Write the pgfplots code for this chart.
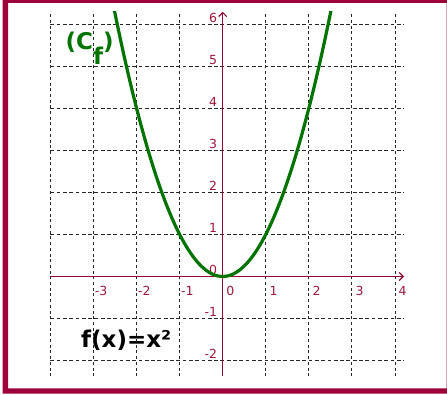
\documentclass[border=0pt]{standalone}
\usepackage{pgfplots}
\pgfplotsset{compat=1.18}
\usepackage{pgfplotstable}
\usetikzlibrary{arrows.meta}
\usepackage{graphicx}
\usepackage{fontspec}
\setmainfont{DejaVu Sans}
\definecolor{framecol}{RGB}{158,0,57}
\definecolor{axiscol}{RGB}{150,10,50}
\definecolor{labcol}{RGB}{160,25,60}
\definecolor{curvecol}{RGB}{0,115,0}
\pgfplotstableread{
x y
-2.6 6.76
-2.5 6.25
-2.4 5.76
-2.3 5.29
-2.2 4.84
-2.1 4.41
-2.0 4.00
-1.9 3.61
-1.8 3.24
-1.7 2.89
-1.6 2.56
-1.5 2.25
-1.4 1.96
-1.3 1.69
-1.2 1.44
-1.1 1.21
-1.0 1.00
-0.9 0.81
-0.8 0.64
-0.7 0.49
-0.6 0.36
-0.5 0.25
-0.4 0.16
-0.3 0.09
-0.2 0.04
-0.1 0.01
0.0 0.00
0.1 0.01
0.2 0.04
0.3 0.09
0.4 0.16
0.5 0.25
0.6 0.36
0.7 0.49
0.8 0.64
0.9 0.81
1.0 1.00
1.1 1.21
1.2 1.44
1.3 1.69
1.4 1.96
1.5 2.25
1.6 2.56
1.7 2.89
1.8 3.24
1.9 3.61
2.0 4.00
2.1 4.41
2.2 4.84
2.3 5.29
2.4 5.76
2.5 6.25
2.6 6.76
}\parab
\begin{document}
\begin{tikzpicture}
\useasboundingbox (0,0) rectangle (447pt,394pt);
\clip (0,0) rectangle (447pt,394pt);
\fill[white] (0,0) rectangle (447pt,394pt);
\fill[framecol, even odd rule] (2.7pt,0.5pt) rectangle (449pt,396pt) (8pt,5.7pt) rectangle (446.5pt,391pt);
\node[anchor=base west, inner sep=0pt, text=curvecol, font=\bfseries\fontsize{23}{23}\selectfont] at (65.5pt,344.8pt) {(C\raisebox{-15pt}{f})};
\node[anchor=base west, inner sep=0pt, text=black, font=\bfseries\fontsize{23}{23}\selectfont] at (81pt,46.5pt) {f(x)=x²};
\begin{scope}
\clip (0,0) rectangle (405pt,394pt);
\begin{axis}[
  anchor=origin, at={(222.7pt,117.5pt)},
  x=43.08pt, y=42.09pt,
  xmin=-4, xmax=4.21, ymin=-2.37, ymax=6.29,
  axis lines=middle,
  axis line style={draw=axiscol, line width=1.3pt, -{Straight Barb[length=4pt,width=8pt,line width=1.2pt]}},
  xtick={-4,...,4}, ytick={-2,...,6},
  xticklabels={,-3,-2,-1,0,1,2,3,4},
  yticklabels={-2,-1,0,1,2,3,4,5,6},
  hide obscured x ticks=false, hide obscured y ticks=false,
  major tick length=0pt,
  grid=major,
  major x grid style={black!85, line width=0.9pt, dash pattern=on 3pt off 2.7pt},
  major y grid style={black!85, line width=0.9pt, dash pattern=on 3.8pt off 2.5pt},
  ticklabel style={font=\fontsize{12.5}{12.5}\selectfont, text=labcol, inner sep=0pt},
  x tick label style={anchor=north, xshift=7.7pt, yshift=-10pt},
  y tick label style={anchor=south east, xshift=-5.5pt, yshift=1.5pt},
  clip=true,
]
\addplot[curvecol, line width=3.2pt, smooth] table[x=x,y=y] {\parab};
\end{axis}
\end{scope}
\end{tikzpicture}
\end{document}
